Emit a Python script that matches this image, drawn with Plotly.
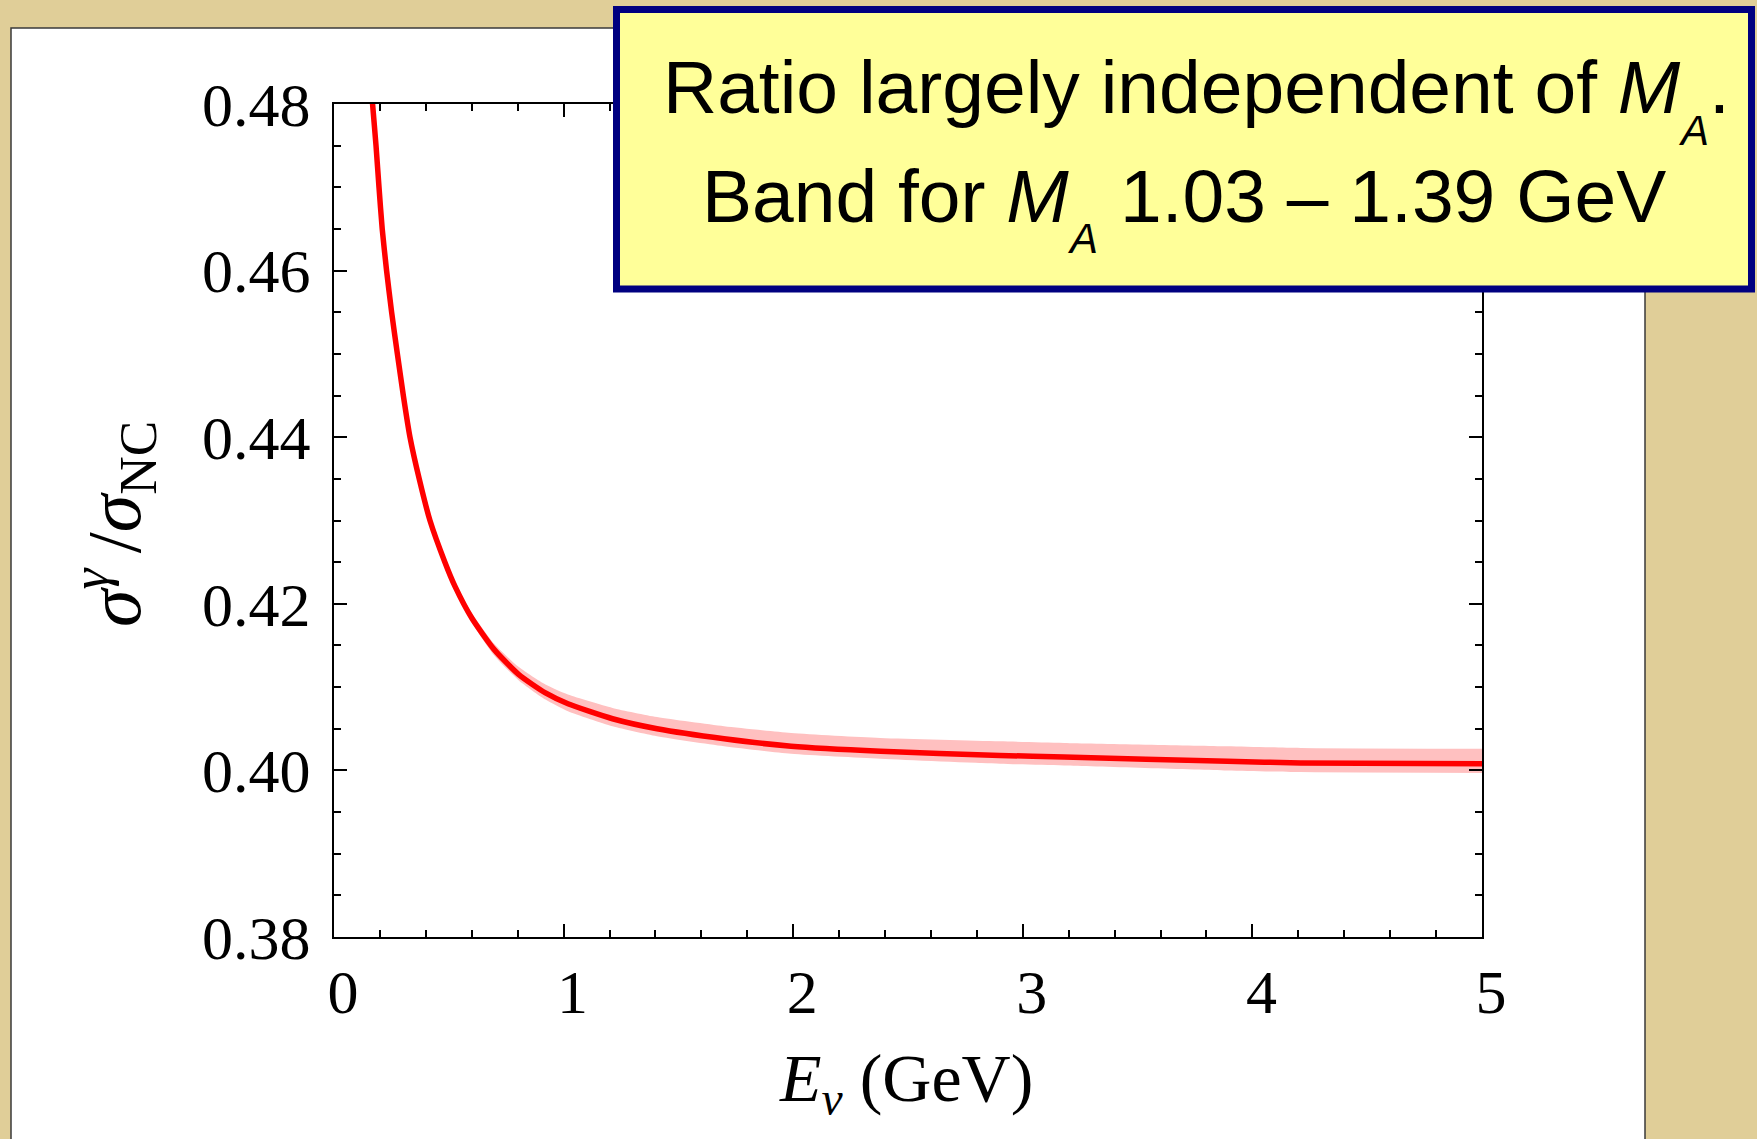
import plotly.graph_objects as go

# ---------------- data ----------------
energy = [0.160, 0.168, 0.183, 0.196, 0.210, 0.229, 0.251, 0.276, 0.302, 0.331,
          0.372, 0.418, 0.483, 0.527, 0.600, 0.698, 0.805, 0.921, 1.019, 1.213,
          1.407, 1.699, 1.991, 2.380, 2.900, 3.180, 3.890, 4.210, 5.000]
ratio = [0.4828, 0.4800, 0.4750, 0.4700, 0.4650, 0.4600, 0.4550, 0.4500, 0.4450, 0.4400,
         0.4349, 0.4300, 0.4250, 0.4221, 0.4183, 0.4145, 0.4115, 0.4093, 0.4080, 0.4062,
         0.4050, 0.4038, 0.4029, 0.4023, 0.4018, 0.4016, 0.4011, 0.4009, 0.4008]
band_upper = [0.4831, 0.4803, 0.4753, 0.4703, 0.4653, 0.4603, 0.4553, 0.4503, 0.4453, 0.4403,
              0.4352, 0.4303, 0.4254, 0.4226, 0.4189, 0.4152, 0.4124, 0.4103, 0.4091, 0.4075,
              0.4064, 0.4053, 0.4045, 0.4039, 0.4035, 0.4033, 0.4029, 0.4027, 0.4026]
band_lower = [0.4825, 0.4797, 0.4747, 0.4697, 0.4647, 0.4597, 0.4547, 0.4497, 0.4447, 0.4397,
              0.4346, 0.4297, 0.4246, 0.4217, 0.4178, 0.4138, 0.4108, 0.4085, 0.4071, 0.4053,
              0.4041, 0.4029, 0.4020, 0.4014, 0.4008, 0.4006, 0.4000, 0.3998, 0.3997]

x_range = [0, 5]
y_range = [0.38, 0.48]

# ---------------- layout helpers (pixel -> paper) ----------------
W, H = 1757, 1139
L, R, T, B = 334, 1482, 104, 937


def px(xp):
    return (xp - L) / (R - L)


def py(yp):
    return (B - yp) / (B - T)


SERIF = "Liberation Serif, Times New Roman, serif"
SANS = "Liberation Sans, Arial, sans-serif"

fig = go.Figure()
fig.add_trace(go.Scatter(x=energy, y=band_lower, mode="lines",
                         line=dict(width=0, color="rgba(0,0,0,0)", shape="spline", smoothing=0.6),
                         hoverinfo="skip", showlegend=False))
fig.add_trace(go.Scatter(x=energy, y=band_upper, mode="lines",
                         line=dict(width=0, color="rgba(0,0,0,0)", shape="spline", smoothing=0.6),
                         fill="tonexty", fillcolor="rgb(255,192,192)", hoverinfo="skip", showlegend=False))
fig.add_trace(go.Scatter(x=energy, y=ratio, mode="lines",
                         line=dict(width=5.5, color="#FF0000", shape="spline", smoothing=0.6),
                         showlegend=False))

axis_common = dict(
    ticks="inside", ticklen=13, tickwidth=2, tickcolor="black",
    showline=True, linecolor="black", linewidth=2, mirror="allticks",
    showgrid=False, zeroline=False,
    tickfont=dict(family=SERIF, size=62, color="black"),
)

fig.update_xaxes(range=x_range, tick0=0, dtick=1, ticklabelstandoff=0, ticklabelshift=9,
                 minor=dict(tick0=0, dtick=0.2, ticks="inside", ticklen=7, tickwidth=1.5,
                            tickcolor="black", showgrid=False),
                 **axis_common)
fig.update_yaxes(range=y_range, tick0=0.38, dtick=0.02, tickformat=".2f", ticklabelstandoff=9,
                 minor=dict(tick0=0.38, dtick=0.005, ticks="inside", ticklen=7, tickwidth=1.5,
                            tickcolor="black", showgrid=False),
                 **axis_common)

shapes = [
    # white slide panel
    dict(type="rect", xref="paper", yref="paper", layer="below",
         x0=px(11), x1=px(1645), y0=py(1150), y1=py(28),
         fillcolor="white", line=dict(color="#3a3a3a", width=1.5)),
    # yellow note box
    dict(type="rect", xref="paper", yref="paper", layer="above",
         x0=px(616.5), x1=px(1751.5), y0=py(289), y1=py(9.5),
         fillcolor="#FFFF99", line=dict(color="#000080", width=7)),
]

annotations = [
    # axis titles
    dict(text="<i>E</i><sub><i>ν</i></sub> (GeV)", x=px(906), y=py(1082), xref="paper", yref="paper",
         xanchor="center", yanchor="middle", showarrow=False, borderpad=0,
         font=dict(family=SERIF, size=68, color="black")),
    dict(text="<i>σ</i><sup><i>γ</i></sup>\u2009/<i>σ</i><sub>NC</sub>", x=px(114), y=py(524),
         xref="paper", yref="paper", textangle=-90,
         xanchor="center", yanchor="middle", showarrow=False, borderpad=0,
         font=dict(family=SERIF, size=76, color="black")),
    # note box text, line 1
    dict(text="Ratio largely independent of <i>M</i>", x=px(662), y=py(87.3), xref="paper", yref="paper",
         xanchor="left", yanchor="middle", showarrow=False, borderpad=0,
         font=dict(family=SANS, size=75, color="black")),
    dict(text="<i>A</i>", x=px(1677), y=py(130.4), xref="paper", yref="paper",
         xanchor="left", yanchor="middle", showarrow=False, borderpad=0,
         font=dict(family=SANS, size=42, color="black")),
    dict(text=".", x=px(1708), y=py(87.3), xref="paper", yref="paper",
         xanchor="left", yanchor="middle", showarrow=False, borderpad=0,
         font=dict(family=SANS, size=75, color="black")),
    # note box text, line 2
    dict(text="Band for <i>M</i>", x=px(701), y=py(195.7), xref="paper", yref="paper",
         xanchor="left", yanchor="middle", showarrow=False, borderpad=0,
         font=dict(family=SANS, size=75, color="black")),
    dict(text="<i>A</i>", x=px(1066), y=py(238.1), xref="paper", yref="paper",
         xanchor="left", yanchor="middle", showarrow=False, borderpad=0,
         font=dict(family=SANS, size=42, color="black")),
    dict(text="1.03 – 1.39 GeV", x=px(1119), y=py(195.7), xref="paper", yref="paper",
         xanchor="left", yanchor="middle", showarrow=False, borderpad=0,
         font=dict(family=SANS, size=75, color="black")),
]

fig.update_layout(
    width=W, height=H,
    margin=dict(l=L, r=W - R, t=T, b=H - B, pad=0),
    paper_bgcolor="#E0CE98", plot_bgcolor="white",
    showlegend=False,
    shapes=shapes, annotations=annotations,
)

fig.write_html(
    "out.html",
    config={"displayModeBar": False},
    post_script="document.body.style.margin='0px';document.body.style.overflow='hidden';",
)
